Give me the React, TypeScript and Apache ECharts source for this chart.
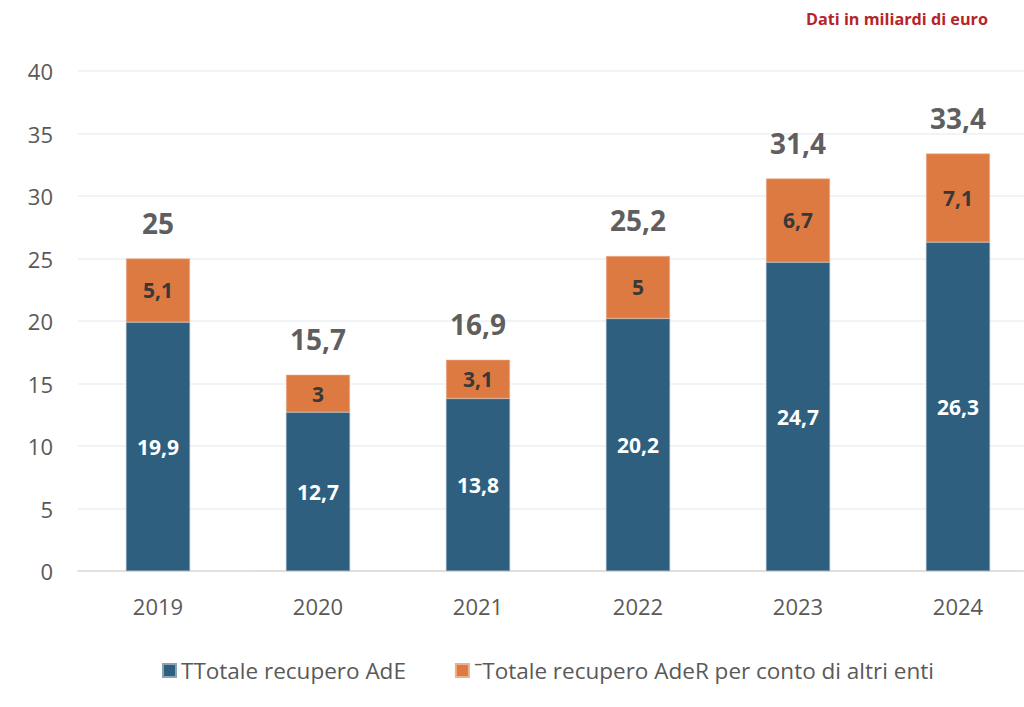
import React, { useEffect, useRef } from "react";
import * as echarts from "echarts";

const years = ["2019", "2020", "2021", "2022", "2023", "2024"];
const adeValues = [19.9, 12.7, 13.8, 20.2, 24.7, 26.3];
const aderValues = [5.1, 3, 3.1, 5, 6.7, 7.1];
const totals = [25, 15.7, 16.9, 25.2, 31.4, 33.4];
const seriesNames = ["TTotale recupero AdE", "ˉTotale recupero AdeR per conto di altri enti"];
const noteText = "Dati in miliardi di euro";

const FONT = "'Open Sans', 'Noto Sans', sans-serif";
const fmt = (v: number) => String(v).replace(".", ",");

export default function App() {
  const ref = useRef<HTMLDivElement>(null);
  useEffect(() => {
    document.body.style.overflow = "hidden";
    if (!ref.current) return;
    const chart = echarts.init(ref.current, null, { renderer: "svg" });
    chart.setOption({
      animation: false,
      backgroundColor: "#ffffff",
      textStyle: { fontFamily: FONT },
      graphic: [
        {
          type: "text",
          left: 806,
          top: 11,
          style: {
            text: noteText,
            fill: "#B5242A",
            font: `bold 16.2px ${FONT}`,
          },
        },
      ],
      legend: {
        bottom: 20,
        left: 157,
        itemWidth: 13,
        itemHeight: 13,
        itemGap: 49,
        icon: "rect",
        textStyle: { color: "#595959", fontSize: 22.5, fontFamily: FONT },
        data: seriesNames,
      },
      grid: { left: 78, top: 71, right: 2, bottom: 136 },
      xAxis: {
        type: "category",
        data: years,
        axisTick: { show: false },
        axisLine: { lineStyle: { color: "#D9D9D9", width: 1.5 } },
        axisLabel: { color: "#595959", fontSize: 22, margin: 24, fontFamily: FONT },
      },
      yAxis: {
        type: "value",
        min: 0,
        max: 40,
        interval: 5,
        axisLine: { show: false },
        axisTick: { show: false },
        splitLine: { lineStyle: { color: "#EDF0F5", width: 1.5 } },
        axisLabel: { color: "#595959", fontSize: 22, margin: 25, fontFamily: FONT },
      },
      series: [
        {
          name: seriesNames[0],
          type: "bar",
          stack: "tot",
          barWidth: 64,
          data: adeValues,
          itemStyle: { color: "#2E5F7E", borderColor: "#8AA3B5", borderWidth: 0.6 },
          label: {
            show: true,
            position: "inside",
            color: "#ffffff",
            fontWeight: "bold",
            fontSize: 21,
            fontFamily: FONT,
            formatter: (p: any) => fmt(p.value),
          },
        },
        {
          name: seriesNames[1],
          type: "bar",
          stack: "tot",
          barWidth: 64,
          data: aderValues,
          itemStyle: { color: "#DD7A42", borderColor: "#EDB08C", borderWidth: 0.6 },
          label: {
            show: true,
            position: "inside",
            color: "#383838",
            fontWeight: "bold",
            fontSize: 21,
            fontFamily: FONT,
            formatter: (p: any) => fmt(p.value),
          },
        },
        {
          name: "Totale",
          type: "scatter",
          data: totals,
          symbolSize: 0,
          silent: true,
          label: {
            show: true,
            position: "top",
            distance: 22,
            color: "#333333",
            fontWeight: "bold",
            fontSize: 28,
            fontFamily: FONT,
            formatter: (p: any) => fmt(p.value),
          },
        },
      ],
    });
    return () => chart.dispose();
  }, []);
  return (
    <div
      ref={ref}
      style={{ position: "fixed", left: 0, top: 0, width: 1040, height: 707 }}
    />
  );
}
